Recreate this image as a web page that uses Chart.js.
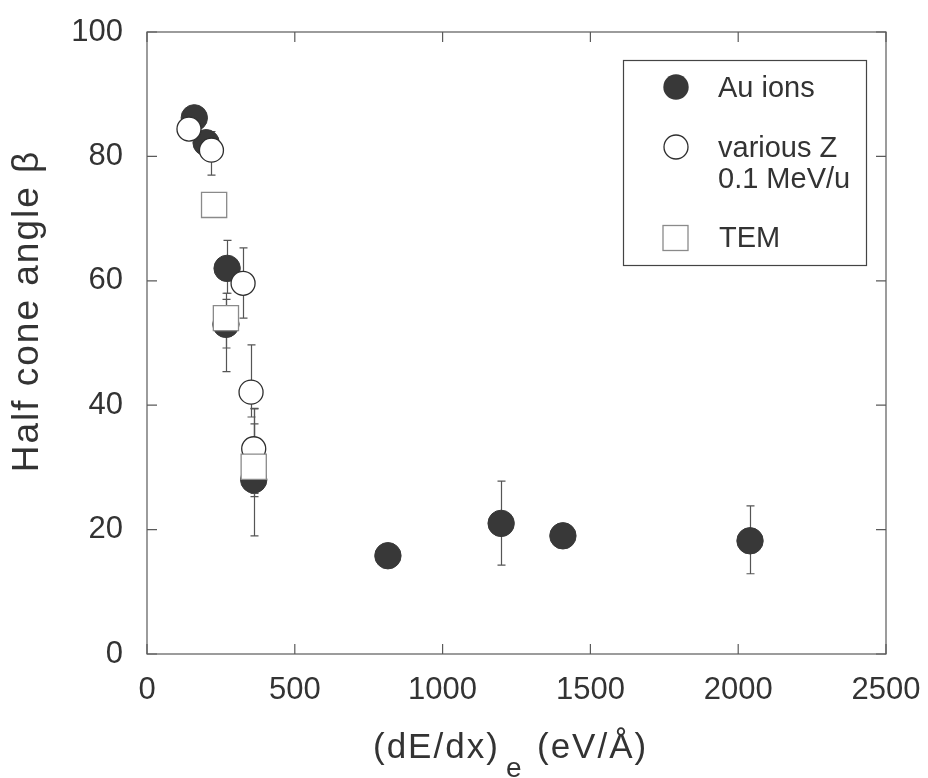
<!DOCTYPE html>
<html>
<head>
<meta charset="utf-8">
<script src="https://cdn.jsdelivr.net/npm/chart.js@4/dist/chart.umd.min.js"></script>
<style>
  html, body { margin: 0; padding: 0; background: #fff; }
  canvas { display: block; }
</style>
</head>
<body>
<canvas id="chart" width="928" height="778"></canvas>
<script>
// Au ions (filled circles)
const auX    = [160, 200, 271, 267, 361, 815, 1198, 1407, 2040];
const auY    = [86.2, 82.2, 62.0, 53.0, 28.0, 15.8, 21.0, 19.0, 18.2];
const auLow  = [null, null, 58.0, 45.4, 19.0, null, 14.3, null, 12.9];
const auHigh = [null, null, 66.5, 57.0, 37.0, null, 27.8, null, 23.8];

// various Z at 0.1 MeV/u (open circles)
const zX    = [142, 218, 325, 352, 361];
const zY    = [84.4, 81.0, 59.6, 42.1, 33.0];
const zLow  = [null, 77.0, 54.0, 38.1, 25.8];
const zHigh = [null, 84.0, 65.3, 49.7, 39.5];

// TEM (open squares)
const temX    = [227, 267, 361];
const temY    = [72.2, 54.0, 30.1];
const temLow  = [null, 49.2, 25.3];
const temHigh = [null, 58.0, 39.4];

const xTicks = [0, 500, 1000, 1500, 2000, 2500];
const yTicks = [0, 20, 40, 60, 80, 100];

const FONT = "'Liberation Sans', Arial, sans-serif";
const INK = '#333';
const AXIS = '#5a5a5a';

const toPoints = (xs, ys) => xs.map((x, i) => ({ x: x, y: ys[i] }));

const errorBars = [
    { xs: auX, lo: auLow, hi: auHigh },
    { xs: zX, lo: zLow, hi: zHigh },
    { xs: temX, lo: temLow, hi: temHigh }
];

// vertical error bars with small caps, behind the markers
const errorBarPlugin = {
    id: 'errorBars',
    beforeDatasetsDraw(chart) {
        const { ctx, scales: { x, y } } = chart;
        ctx.save();
        ctx.strokeStyle = '#555';
        ctx.lineWidth = 1.2;
        errorBars.forEach(set => {
            set.xs.forEach((xv, i) => {
                if (set.lo[i] == null) return;
                const px = Math.round(x.getPixelForValue(xv)) + 0.5;
                const p1 = y.getPixelForValue(set.lo[i]);
                const p2 = y.getPixelForValue(set.hi[i]);
                ctx.beginPath();
                ctx.moveTo(px, p1); ctx.lineTo(px, p2);
                ctx.moveTo(px - 4, p1); ctx.lineTo(px + 4, p1);
                ctx.moveTo(px - 4, p2); ctx.lineTo(px + 4, p2);
                ctx.stroke();
            });
        });
        ctx.restore();
    }
};

// frame with inward ticks, axis titles and the boxed legend
const framePlugin = {
    id: 'frame',
    afterDraw(chart) {
        const { ctx, chartArea: a, scales: { x, y } } = chart;
        ctx.save();
        ctx.strokeStyle = AXIS;
        ctx.lineWidth = 1.2;
        ctx.strokeRect(a.left, a.top, a.right - a.left, a.bottom - a.top);
        ctx.beginPath();
        xTicks.forEach(v => {
            const px = x.getPixelForValue(v);
            ctx.moveTo(px, a.bottom); ctx.lineTo(px, a.bottom - 10);
            ctx.moveTo(px, a.top); ctx.lineTo(px, a.top + 10);
        });
        yTicks.forEach(v => {
            const py = y.getPixelForValue(v);
            ctx.moveTo(a.left, py); ctx.lineTo(a.left + 10, py);
            ctx.moveTo(a.right, py); ctx.lineTo(a.right - 10, py);
        });
        ctx.stroke();

        ctx.fillStyle = INK;
        // y title
        ctx.save();
        ctx.translate(38, 311);
        ctx.rotate(-Math.PI / 2);
        ctx.font = `37px ${FONT}`;
        ctx.letterSpacing = '2px';
        ctx.textAlign = 'center';
        ctx.textBaseline = 'alphabetic';
        ctx.fillText('Half cone angle \u03b2', 0, 0);
        ctx.restore();

        // x title with subscript
        ctx.font = `35px ${FONT}`;
        ctx.letterSpacing = '2px';
        ctx.textAlign = 'left';
        ctx.textBaseline = 'alphabetic';
        ctx.fillText('(dE/dx)', 373, 758);
        ctx.fillText('(eV/\u00c5)', 537, 758);
        ctx.font = `28px ${FONT}`;
        ctx.letterSpacing = '0px';
        ctx.fillText('e', 506, 777);

        // legend
        ctx.strokeStyle = '#444';
        ctx.lineWidth = 1.2;
        ctx.strokeRect(623.5, 60.5, 243, 205);
        const ds = chart.data.datasets;
        ctx.beginPath();
        ctx.arc(676, 87, 12.7, 0, Math.PI * 2);
        ctx.fillStyle = ds[0].backgroundColor;
        ctx.fill();
        ctx.beginPath();
        ctx.arc(676, 147, 12, 0, Math.PI * 2);
        ctx.fillStyle = '#fff';
        ctx.fill();
        ctx.strokeStyle = ds[1].borderColor;
        ctx.lineWidth = 1.3;
        ctx.stroke();
        ctx.strokeStyle = ds[2].borderColor;
        ctx.strokeRect(663, 225.5, 25, 25);

        ctx.fillStyle = INK;
        ctx.font = `29px ${FONT}`;
        ctx.fillText(ds[0].label, 718, 97);
        ctx.fillText('various Z', 718, 157);
        ctx.fillText('0.1 MeV/u', 718, 188);
        ctx.fillText(ds[2].label, 719, 247);
        ctx.restore();
    }
};

new Chart(document.getElementById('chart'), {
    type: 'scatter',
    data: {
        datasets: [
            {
                label: 'Au ions',
                data: toPoints(auX, auY),
                pointStyle: 'circle',
                pointRadius: 13.2,
                backgroundColor: '#383838',
                borderColor: '#383838',
                borderWidth: 1,
                order: 3
            },
            {
                label: 'various Z 0.1 MeV/u',
                data: toPoints(zX, zY),
                pointStyle: 'circle',
                pointRadius: 12,
                backgroundColor: '#fff',
                borderColor: '#2e2e2e',
                borderWidth: 1.3,
                order: 2
            },
            {
                label: 'TEM',
                data: toPoints(temX, temY),
                pointStyle: 'rect',
                pointRadius: 17.8,
                backgroundColor: '#fff',
                borderColor: '#8a8a8a',
                borderWidth: 1.3,
                order: 1
            }
        ]
    },
    options: {
        responsive: false,
        animation: false,
        layout: { padding: { left: 0, right: 42, top: 32, bottom: 0 } },
        plugins: {
            legend: { display: false },
            tooltip: { enabled: false }
        },
        scales: {
            x: {
                type: 'linear',
                min: 0,
                max: 2500,
                afterFit: s => { s.height = 124; s.paddingLeft = 0; s.paddingRight = 0; },
                afterBuildTicks: s => { s.ticks = xTicks.map(v => ({ value: v })); },
                grid: { display: false, drawTicks: false },
                border: { display: false },
                ticks: {
                    padding: 18,
                    maxRotation: 0,
                    color: INK,
                    font: { family: FONT, size: 31 },
                    callback: v => String(v)
                }
            },
            y: {
                type: 'linear',
                min: 0,
                max: 100,
                afterFit: s => { s.width = 147; s.paddingTop = 0; s.paddingBottom = 0; },
                afterBuildTicks: s => { s.ticks = yTicks.map(v => ({ value: v })); },
                grid: { display: false, drawTicks: false },
                border: { display: false },
                ticks: {
                    padding: 24,
                    color: INK,
                    font: { family: FONT, size: 31 },
                    callback: v => String(v)
                }
            }
        }
    },
    plugins: [errorBarPlugin, framePlugin]
});
</script>
</body>
</html>
